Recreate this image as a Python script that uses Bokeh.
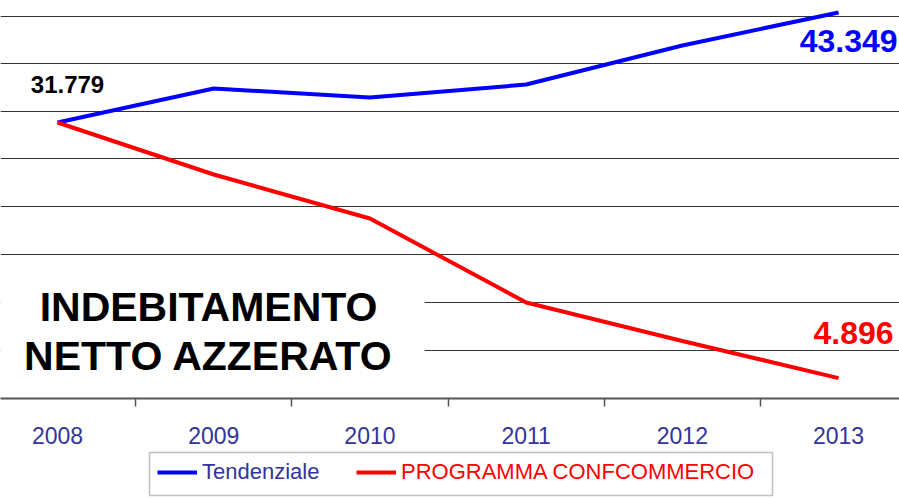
from bokeh.plotting import figure
from bokeh.layouts import column
from bokeh.models import (Range1d, FixedTicker, Grid, Label, BoxAnnotation,
                          Legend, LegendItem)
from bokeh.embed import file_html
from bokeh.resources import INLINE

# ---- data ----
years = [2008, 2009, 2010, 2011, 2012, 2013]
tendenziale = [31.779, 35.36, 34.41, 35.77, 39.88, 43.349]
programma = [31.779, 26.31, 21.68, 12.85, 8.80, 4.896]
grid_values = [7.80, 12.84, 17.89, 22.94, 27.99, 32.94, 37.98, 42.93]
boundaries = [2008.5, 2009.5, 2010.5, 2011.5, 2012.5]
series_names = ["Tendenziale", "PROGRAMMA CONFCOMMERCIO"]
start_label = "31.779"
end_labels = ["43.349", "4.896"]
headline = ["INDEBITAMENTO", "NETTO AZZERATO"]

BLUE = "#0000FF"
RED = "#FF0000"
NAVY = "#333399"
FONT = "Liberation Sans"

p = figure(width=899, height=450, output_backend="svg", toolbar_location=None,
           x_range=Range1d(2007.635, 2013.39), y_range=Range1d(2.75, 44.61),
           y_axis_location=None, min_border_left=0, min_border_right=0,
           min_border_top=0, min_border_bottom=52)
p.outline_line_color = None
p.xgrid.grid_line_color = None
p.ygrid.grid_line_color = None
p.background_fill_color = "white"
p.border_fill_color = "white"

p.add_layout(Grid(dimension=1, ticker=FixedTicker(ticks=grid_values),
                  grid_line_color="#333333", grid_line_width=1))

ax = p.xaxis[0]
ax.ticker = FixedTicker(ticks=years, minor_ticks=boundaries)
ax.major_tick_line_color = None
ax.major_tick_in = 0
ax.major_tick_out = 0
ax.minor_tick_in = 0
ax.minor_tick_out = 8
ax.minor_tick_line_color = "#555555"
ax.minor_tick_line_width = 1.5
ax.axis_line_color = "#555555"
ax.axis_line_width = 2
ax.major_label_text_font = FONT
ax.major_label_text_font_size = "23px"
ax.major_label_text_color = NAVY
ax.major_label_standoff = 20

r1 = p.line(years, tendenziale, line_color=BLUE, line_width=4)
r2 = p.line(years, programma, line_color=RED, line_width=4)

# white panel behind the headline
p.add_layout(BoxAnnotation(right=2010.35, top=17.05, bottom=2.96,
                           fill_color="white", fill_alpha=1, line_color=None))

for txt, yv in zip(headline, [12.42, 7.17]):
    p.add_layout(Label(x=2008.967, y=yv, text=txt, text_align="center",
                       text_baseline="middle", text_font=FONT,
                       text_font_style="bold", text_font_size="41px",
                       text_color="black"))

p.add_layout(Label(x=years[0], y=tendenziale[0], text=start_label, x_offset=10,
                   y_offset=38, text_align="center", text_baseline="middle",
                   text_font=FONT, text_font_style="bold", text_font_size="24px",
                   text_color="black"))
p.add_layout(Label(x=years[-1], y=tendenziale[-1], text=end_labels[0], x_offset=59,
                   y_offset=-29, text_align="right", text_baseline="middle",
                   text_font=FONT, text_font_style="bold", text_font_size="32px",
                   text_color=BLUE))
p.add_layout(Label(x=years[-1], y=programma[-1], text=end_labels[1], x_offset=55,
                   y_offset=45, text_align="right", text_baseline="middle",
                   text_font=FONT, text_font_style="bold", text_font_size="32px",
                   text_color=RED))

# ---- legend strip ----
q = figure(width=899, height=48, output_backend="svg", toolbar_location=None,
           x_range=Range1d(0, 899), y_range=Range1d(0, 48),
           x_axis_location=None, y_axis_location=None,
           min_border_left=0, min_border_right=0, min_border_top=0,
           min_border_bottom=0)
q.outline_line_color = None
q.xgrid.grid_line_color = None
q.ygrid.grid_line_color = None
q.border_fill_color = "white"

# series renderers for the legend keys (their points fall outside this strip)
k1 = q.line(years, tendenziale, line_color=BLUE, line_width=4)
k2 = q.line(years, programma, line_color=RED, line_width=4)

q.add_layout(BoxAnnotation(left=149, right=772, top=46, bottom=3,
                           fill_alpha=0, line_color="#333333", line_width=1.5))


def make_legend(name, rend, color, x):
    return Legend(items=[LegendItem(label=name, renderers=[rend])],
                  location=(x, 13), orientation="horizontal",
                  border_line_alpha=0, background_fill_alpha=0,
                  label_text_color=color, label_text_font=FONT,
                  label_text_font_size="22px", glyph_width=40, glyph_height=20,
                  label_standoff=5, padding=0, margin=0, spacing=0)


q.add_layout(make_legend(series_names[0], k1, NAVY, 157))
q.add_layout(make_legend(series_names[1], k2, RED, 356))

layout = column(p, q, spacing=0)
open("out.html", "w").write(file_html(layout, INLINE))
